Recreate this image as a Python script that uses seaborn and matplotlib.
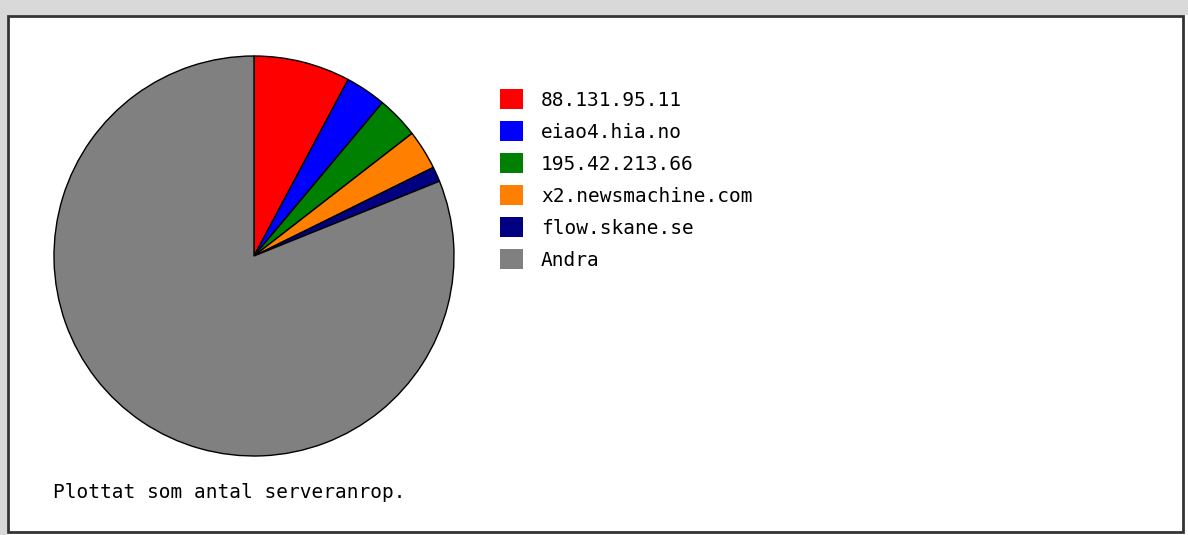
import matplotlib
matplotlib.use("Agg")
import matplotlib.pyplot as plt
import seaborn as sns
from matplotlib.patches import Rectangle

# ---- data ----
labels = ["88.131.95.11", "eiao4.hia.no", "195.42.213.66",
          "x2.newsmachine.com", "flow.skane.se", "Andra"]
values = [7.8, 3.3, 3.4, 3.2, 1.2, 81.1]
colors = ["#FF0000", "#0000FF", "#008000", "#FF8000", "#000080", "#808080"]
footer = "Plottat som antal serveranrop."

sns.set_theme(style="white")
plt.rcParams['font.family'] = ['DejaVu Sans Mono', 'DejaVu Sans']

W, H = 1188, 535
fig = plt.figure(figsize=(W / 100, H / 100), dpi=100)
fig.patch.set_facecolor("white")

def fx(px):
    return px / W

def fy(py):
    return 1 - py / H

# frame decoration: grey strips and dark box border
fig.patches.append(Rectangle((0, fy(15)), 1, 15 / H, transform=fig.transFigure,
                             facecolor="#d9d9d9", edgecolor="none", zorder=0))
fig.patches.append(Rectangle((0, 0), fx(7), 1, transform=fig.transFigure,
                             facecolor="#d9d9d9", edgecolor="none", zorder=0))
fig.patches.append(Rectangle((fx(8), fy(532)), fx(1175), (532 - 16) / H,
                             transform=fig.transFigure, facecolor="white",
                             edgecolor="#333333", linewidth=2, zorder=1))

# pie axes: center (254,256), radius ~199
cx, cy, r = 254, 256, 200
ax = fig.add_axes([fx(cx - r), fy(cy + r), 2 * r / W, 2 * r / H])
wedges, _ = ax.pie(values, colors=colors, startangle=90, counterclock=False,
                   wedgeprops=dict(edgecolor="black", linewidth=1))
ax.set_xlim(-1, 1)
ax.set_ylim(-1, 1)
ax.set_aspect("auto")
ax.axis("off")
ax.set_zorder(2)

fs = 14
leg = fig.legend(wedges, labels, loc="upper left",
                 bbox_to_anchor=(fx(500), fy(89)), frameon=False,
                 fontsize=fs, handlelength=1.2, handleheight=1.2,
                 handletextpad=0.9, labelspacing=0.59, borderpad=0,
                 borderaxespad=0, labelcolor="black")
for h in leg.legend_handles:
    h.set_edgecolor("none")

fig.text(fx(53), fy(492), footer, fontsize=fs, ha="left", va="center",
         color="black", zorder=3)

fig.savefig("out.png", dpi=100)
